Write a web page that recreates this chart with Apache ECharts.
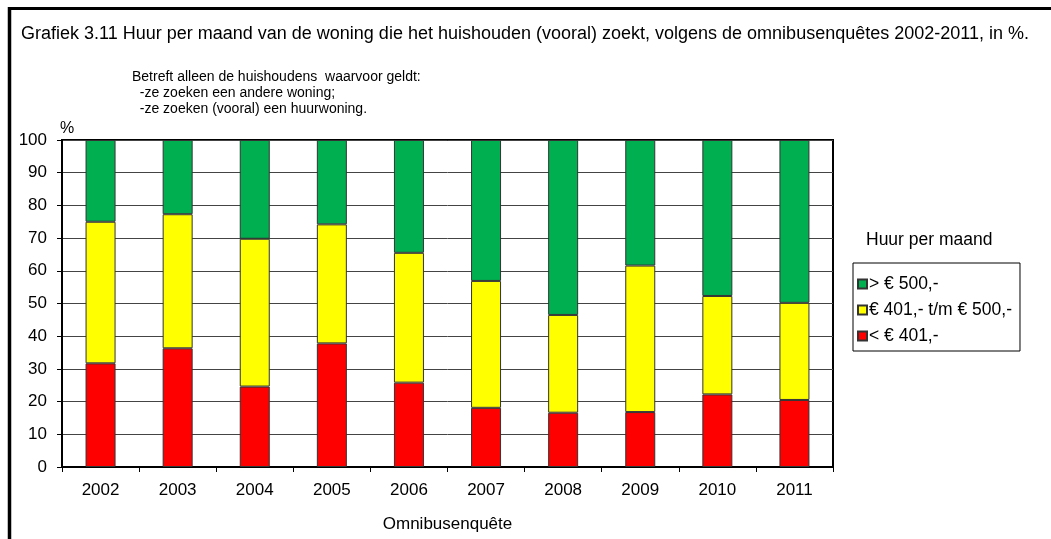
<!DOCTYPE html>
<html>
<head>
<meta charset="utf-8">
<script src="https://cdn.jsdelivr.net/npm/echarts@6/dist/echarts.min.js"></script>
<style>
  html, body { margin: 0; padding: 0; background: #fff; }
  #main { width: 1051px; height: 539px; }
</style>
</head>
<body>
<div id="main"></div>
<script>
// data
let years = ['2002', '2003', '2004', '2005', '2006', '2007', '2008', '2009', '2010', '2011'];
let laag = [31.7, 36.3, 24.6, 37.8, 25.8, 18.1, 16.6, 16.8, 22.2, 20.5];     // < € 401,-
let midden = [43.3, 41.0, 45.2, 36.4, 39.7, 38.8, 29.9, 44.8, 30.1, 29.7];   // € 401,- t/m € 500,-
let hoog = [25.0, 22.7, 30.2, 25.8, 34.5, 43.1, 53.5, 38.4, 47.7, 49.8];     // > € 500,-
let yTicks = [0, 10, 20, 30, 40, 50, 60, 70, 80, 90, 100];

let font = 'Arial, "Liberation Sans", sans-serif';
let txt = function (size) {
  return { fontFamily: font, fontSize: size, color: '#000', fontWeight: 'normal' };
};

let myChart = echarts.init(document.getElementById('main'));

let barStyle = function (color) {
  return { color: color, borderColor: '#333', borderWidth: 1 };
};

let option = {
  animation: false,
  backgroundColor: '#fff',
  textStyle: { fontFamily: font },
  title: [
    { text: 'Grafiek 3.11 Huur per maand van de woning die het huishouden (vooral) zoekt, volgens de omnibusenquêtes 2002-2011, in %.',
      left: 16, top: 20, textStyle: txt(18) },
    { text: 'Betreft alleen de huishoudens  waarvoor geldt:\n  -ze zoeken een andere woning;\n  -ze zoeken (vooral) een huurwoning.',
      left: 127, top: 64, textStyle: Object.assign(txt(14), { lineHeight: 16 }) },
    { text: '%', left: 55, top: 116, textStyle: txt(16) },
    { text: 'Huur per maand', left: 861, top: 226, textStyle: txt(17.5) }
  ],
  graphic: [
    { type: 'line', shape: { x1: 8, y1: 8.5, x2: 1051, y2: 8.5 }, style: { stroke: '#000', lineWidth: 3 } },
    { type: 'line', shape: { x1: 9.5, y1: 7, x2: 9.5, y2: 539 }, style: { stroke: '#000', lineWidth: 3.5 } }
  ],
  legend: {
    orient: 'vertical',
    left: 853,
    top: 263,
    padding: [12, 8, 6, 4],
    itemGap: 8,
    itemWidth: 9,
    itemHeight: 9,
    borderColor: '#000',
    borderWidth: 1,
    icon: 'rect',
    textStyle: Object.assign(txt(17.5), { padding: [0, 0, 0, -3] }),
    data: ['> € 500,-', '€ 401,- t/m € 500,-', '< € 401,-']
  },
  grid: {
    left: 62, right: 218, top: 140, bottom: 72,
    outerBoundsMode: 'none',
    containLabel: false,
    show: true, borderColor: '#000', borderWidth: 2, backgroundColor: '#fff'
  },
  xAxis: {
    type: 'category',
    data: years,
    boundaryGap: true,
    name: 'Omnibusenquête',
    nameLocation: 'middle',
    nameGap: 49,
    nameTextStyle: txt(17),
    axisLine: { lineStyle: { color: '#000', width: 2 } },
    axisTick: { show: true, length: 5, lineStyle: { color: '#000' } },
    axisLabel: Object.assign(txt(17), { margin: 15 })
  },
  yAxis: {
    type: 'value',
    min: yTicks[0],
    max: yTicks[yTicks.length - 1],
    interval: 10,
    axisLine: { show: true, lineStyle: { color: '#000', width: 2 } },
    axisTick: { show: true, length: 5, lineStyle: { color: '#000' } },
    axisLabel: Object.assign(txt(17), { margin: 15 }),
    splitLine: { lineStyle: { color: '#444', width: 1 } }
  },
  series: [
    { name: '< € 401,-', type: 'bar', stack: 'huur', barWidth: 30, data: laag, itemStyle: barStyle('#FF0000') },
    { name: '€ 401,- t/m € 500,-', type: 'bar', stack: 'huur', barWidth: 30, data: midden, itemStyle: barStyle('#FFFF00') },
    { name: '> € 500,-', type: 'bar', stack: 'huur', barWidth: 30, data: hoog, itemStyle: barStyle('#00B050') }
  ]
};

myChart.setOption(option);
</script>
</body>
</html>
